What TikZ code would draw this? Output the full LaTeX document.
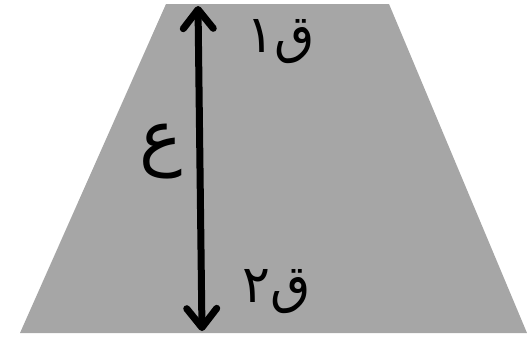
\documentclass[tikz,border=0pt]{standalone}
\usepackage{fontspec}
\newfontfamily\arabicfont[Script=Arabic]{DejaVu Sans}
\TeXXeTstate=1
\usetikzlibrary{arrows.meta}
\definecolor{trapgray}{HTML}{A6A6A6}
\tikzset{
  lbl/.style={font=\arabicfont\fontsize{52}{60}\selectfont, inner sep=0pt, anchor=center},
  biglbl/.style={font=\arabicfont\fontsize{72}{80}\selectfont, inner sep=0pt, anchor=center},
  dimarrow/.style={line width=7pt, line cap=round, {Straight Barb[length=19pt,width=30pt,line cap=round,line join=round]}-{Straight Barb[length=19pt,width=30pt,line cap=round,line join=round]}}
}
\begin{document}
\begin{tikzpicture}[x=1pt,y=-1pt]
\useasboundingbox (0,0) rectangle (527,341);
\fill[trapgray] (166,4) -- (389,4) -- (527,333) -- (20,333) -- cycle;
\coordinate (top) at (198,6);
\coordinate (bot) at (202,331);
\draw[dimarrow] (top) -- (bot);
\node[lbl] (q1) at (281,42) {\beginR ق١\endR};
\node[lbl] (q2) at (277,292) {\beginR ق٢\endR};
\node[biglbl] (h) at (161,152) {\beginR ع\endR};
\end{tikzpicture}
\end{document}
